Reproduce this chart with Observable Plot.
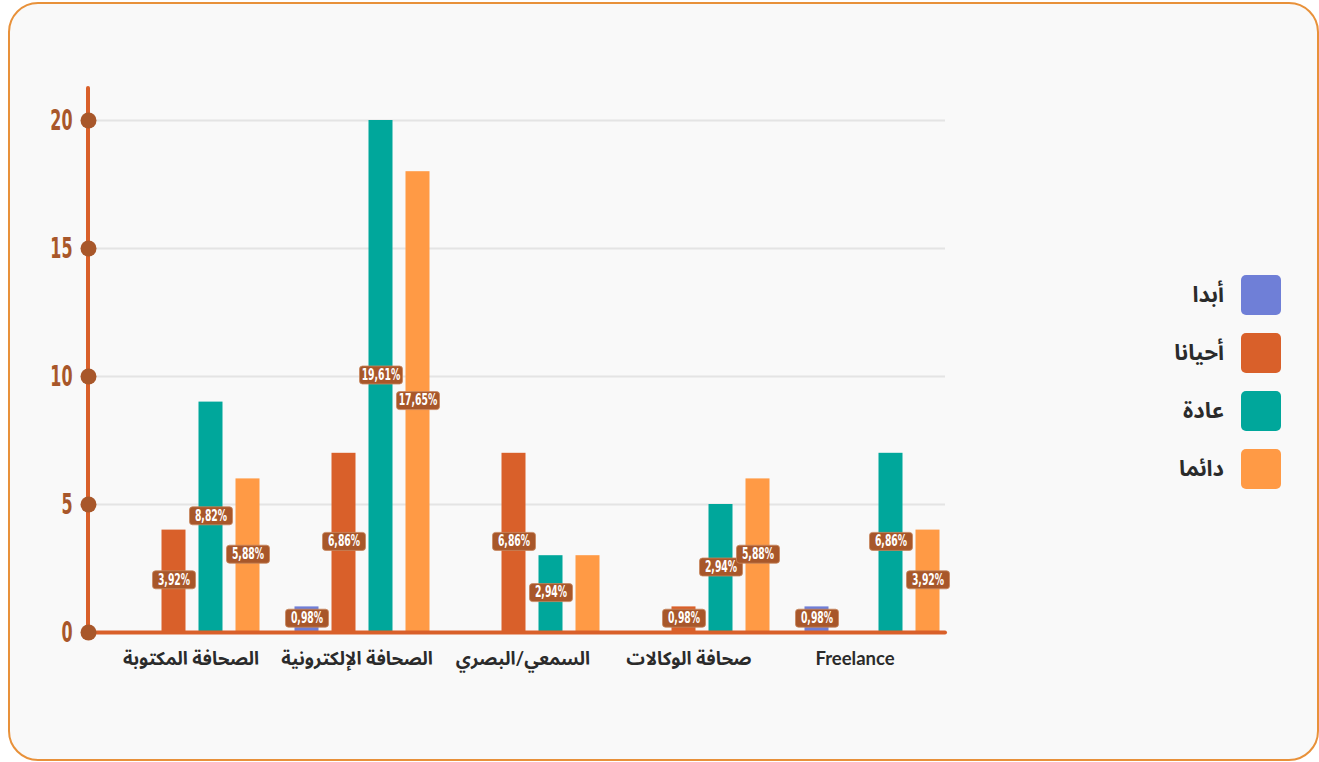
<!DOCTYPE html>
<html lang="ar">
<head>
<meta charset="utf-8">
<title>أنواع الصحافة</title>
<script src="https://cdn.jsdelivr.net/npm/d3@7"></script>
<script src="https://cdn.jsdelivr.net/npm/@observablehq/plot@0.6"></script>
<style>
  html, body { margin: 0; padding: 0; background: #ffffff; width: 1319px; height: 762px; overflow: hidden; }
  #card {
    position: absolute; left: 8px; top: 2px; width: 1307px; height: 755px;
    border: 2px solid #e8913a; border-radius: 30px; background: #f9f9f9;
  }
  #chart { position: absolute; left: 0; top: 0; }
  #legend {
    position: absolute; right: 38px; top: 275px;
    display: flex; flex-direction: column; gap: 18px;
    font-family: "Noto Sans Arabic", "DejaVu Sans", sans-serif;
  }
  .item { display: flex; align-items: center; justify-content: flex-end; gap: 17px; height: 40px; }
  .item span { font-size: 22px; font-weight: bold; color: #2b2b2b; }
  .item i { display: block; width: 40px; height: 40px; border-radius: 5px; }
</style>
</head>
<body>
<div id="card"></div>
<div id="chart"></div>
<div id="legend"></div>
<script>
// Categories (x axis) and series (grouped bars)
const categories = ["الصحافة المكتوبة", "الصحافة الإلكترونية", "السمعي/البصري", "صحافة الوكالات", "Freelance"];
const seriesNames = ["أبدا", "أحيانا", "عادة", "دائما"];
const seriesColors = ["#6f7fd7", "#d9602a", "#00a79b", "#ff9a45"];

// Counts per series, one entry per category
const neverCounts = [0, 1, 0, 0, 1];
const sometimesCounts = [4, 7, 7, 1, 0];
const usuallyCounts = [9, 20, 3, 5, 7];
const alwaysCounts = [6, 18, 3, 6, 4];

// Percentage labels shown on the bars ("" = no label)
const neverLabels = ["", "0,98%", "", "", "0,98%"];
const sometimesLabels = ["3,92%", "6,86%", "6,86%", "0,98%", ""];
const usuallyLabels = ["8,82%", "19,61%", "2,94%", "2,94%", "6,86%"];
const alwaysLabels = ["5,88%", "17,65%", "", "5,88%", "3,92%"];

const yTicks = [0, 5, 10, 15, 20];

const counts = [neverCounts, sometimesCounts, usuallyCounts, alwaysCounts];
const labels = [neverLabels, sometimesLabels, usuallyLabels, alwaysLabels];
const rows = seriesNames.flatMap((s, si) =>
  categories.map((c, ci) => ({category: c, series: s, si, value: counts[si][ci], label: labels[si][ci]}))
);

// Layout
const W = 1000, H = 700;
const margin = {left: 88, right: 55, top: 88, bottom: 68};
const rangeStart = 106.5;
const bandWidth = 170, barWidth = 24, barStep = 37;
const labelStart = 107, labelStep = 166; // category captions sit on a slightly tighter spacing
const inset = (bandWidth - barWidth) / 2;
const offset = (si) => (si - (seriesNames.length - 1) / 2) * barStep;
const captionShift = (ci) => (labelStart + (ci + 0.5) * labelStep) - (rangeStart + (ci + 0.5) * bandWidth);

const axisColor = "#d9602a";
const accent = "#a8572a";
const digits = "'DejaVu Sans', sans-serif";
const arabic = "Lato, 'Noto Sans Arabic', 'DejaVu Sans', sans-serif";

// Rounded box drawn behind each value label
const labelBox = {
  draw(context) {
    const w = 21.5, h = 9, r = 3;
    context.moveTo(-w + r, -h);
    context.lineTo(w - r, -h);
    context.arcTo(w, -h, w, -h + r, r);
    context.lineTo(w, h - r);
    context.arcTo(w, h, w - r, h, r);
    context.lineTo(-w + r, h);
    context.arcTo(-w, h, -w, h - r, r);
    context.lineTo(-w, -h + r);
    context.arcTo(-w, -h, -w + r, -h, r);
    context.closePath();
  }
};

const barMarks = seriesNames.map((s, si) =>
  Plot.barY(rows.filter(d => d.si === si && d.value > 0), {
    x: "category", y: "value", dx: offset(si),
    insetLeft: inset, insetRight: inset, fill: seriesColors[si]
  })
);

const labelMarks = seriesNames.flatMap((s, si) => {
  const data = rows.filter(d => d.si === si && d.label);
  return [
    Plot.dot(data, {
      x: "category", y: d => d.value / 2, dx: offset(si), dy: -1.5,
      symbol: labelBox, fill: accent, stroke: "#c8875d", strokeWidth: 0.8, r: 5
    }),
    Plot.text(data, {
      x: "category", y: d => d.value / 2, dx: offset(si), dy: -1.5, text: "label",
      fill: "#ffffff", fontSize: 15, fontWeight: "bold", fontFamily: digits
    })
  ];
});

const captionMarks = categories.map((c, ci) =>
  Plot.text([c], {
    x: d => d, frameAnchor: "bottom", dx: captionShift(ci), dy: 32,
    fontSize: 18.5, fontWeight: "bold", fontFamily: arabic, fill: "#2b2b2b"
  })
);

const plot = Plot.plot({
  width: W, height: H,
  marginLeft: margin.left, marginRight: margin.right,
  marginTop: margin.top, marginBottom: margin.bottom,
  style: {background: "transparent", overflow: "visible"},
  x: {type: "band", domain: categories, range: [rangeStart, rangeStart + bandWidth * categories.length], padding: 0, axis: null},
  y: {domain: [0, 21.25], axis: null},
  marks: [
    Plot.ruleY(yTicks.filter(t => t > 0), {stroke: "#e4e4e4", strokeWidth: 2}),
    ...barMarks,
    Plot.ruleY([0], {stroke: axisColor, strokeWidth: 4, strokeLinecap: "round"}),
    Plot.dot(yTicks, {y: d => d, frameAnchor: "left", r: 8, fill: accent}),
    Plot.text(yTicks, {
      y: d => d, text: d => String(d), frameAnchor: "left", dx: -16, textAnchor: "end",
      fontSize: 29, fontWeight: "bold", fontFamily: digits, fill: accent
    }),
    ...captionMarks,
    ...labelMarks
  ]
});

// Vertical axis line along the left edge of the frame, beneath the tick dots
const y = plot.scale("y");
d3.select(plot).insert("line", "g[aria-label='dot']")
  .attr("x1", margin.left).attr("x2", margin.left)
  .attr("y1", y.apply(y.domain[1])).attr("y2", y.apply(0) + 2)
  .attr("stroke", axisColor).attr("stroke-width", 4).attr("stroke-linecap", "round");

// Narrow the numeric glyphs horizontally (condensed look), around each text's anchor
function condense(test, k) {
  d3.select(plot).selectAll("text")
    .filter(function () { return test(this.textContent); })
    .attr("transform", function () {
      const t = this.getAttribute("transform") || "";
      const x = +this.getAttribute("x") || 0, yy = +this.getAttribute("y") || 0;
      return `${t} translate(${x},${yy}) scale(${k},1) translate(${-x},${-yy})`;
    });
}
condense(s => /^\d+$/.test(s), 0.55);
condense(s => /%$/.test(s), 0.62);

document.getElementById("chart").appendChild(plot);

// Legend
const legend = d3.select("#legend");
seriesNames.forEach((s, i) => {
  const item = legend.append("div").attr("class", "item");
  item.append("span").text(s);
  item.append("i").style("background", seriesColors[i]);
});
</script>
</body>
</html>
